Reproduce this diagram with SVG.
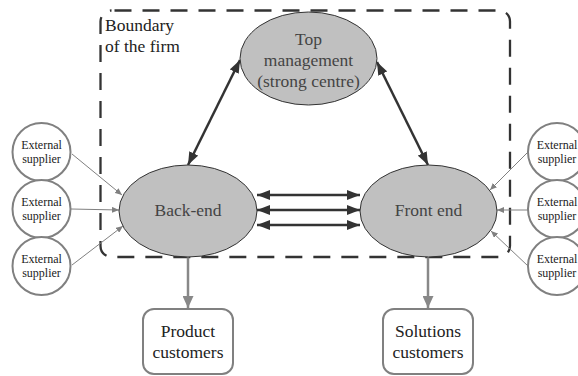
<svg xmlns="http://www.w3.org/2000/svg" width="578" height="376" viewBox="0 0 578 376">
<defs>
<style>
.t{font-family:"Liberation Serif","Times New Roman",serif;text-anchor:middle}
.big{font-size:17.5px;fill:#444}
.sm{font-size:12px;fill:#222}
.box{font-size:17.5px;fill:#222}
.ell{fill:#c0c0c0;stroke:#333;stroke-width:1}
.sup{fill:#fff;stroke:#808080;stroke-width:2}
.cust{fill:#fff;stroke:#808080;stroke-width:2}
.dk{stroke:#333;stroke-width:2.5;fill:none;marker-start:url(#ad);marker-end:url(#ad)}
.th{stroke:#808080;stroke-width:1;fill:none;marker-end:url(#at)}
.dn{stroke:#888;stroke-width:2.5;fill:none;marker-end:url(#ag)}
</style>
<marker id="ad" markerUnits="userSpaceOnUse" markerWidth="13" markerHeight="10" refX="13" refY="5" orient="auto-start-reverse"><path d="M0,0 L13,5 L0,10 z" fill="#333"/></marker>
<marker id="at" markerUnits="userSpaceOnUse" markerWidth="7" markerHeight="6" refX="7" refY="3" orient="auto"><path d="M0,0 L7,3 L0,6 z" fill="#808080"/></marker>
<marker id="ag" markerUnits="userSpaceOnUse" markerWidth="12" markerHeight="11" refX="12" refY="5.5" orient="auto"><path d="M0,0 L12,5.5 L0,11 z" fill="#888"/></marker>
</defs>

<g id="boundary">
<rect x="100.5" y="10.5" width="409.5" height="246.5" rx="11" fill="none" stroke="#333" stroke-width="2.3" stroke-dasharray="17,11" stroke-dashoffset="-3"/>
<text class="t box" style="text-anchor:start" x="105" y="31">Boundary</text>
<text class="t box" style="text-anchor:start" x="105" y="52">of the firm</text>
</g>

<g id="connectors">
<line class="dk" x1="240" y1="60" x2="188" y2="165"/>
<line class="dk" x1="377" y1="62" x2="428" y2="165"/>
<line class="dk" x1="257" y1="195" x2="360" y2="195"/>
<line class="dk" x1="257" y1="210" x2="360" y2="210"/>
<line class="dk" x1="257" y1="225" x2="360" y2="225"/>
<line class="th" x1="72" y1="154" x2="122" y2="195"/>
<line class="th" x1="71" y1="209" x2="119" y2="210"/>
<line class="th" x1="72" y1="265" x2="123" y2="226"/>
<line class="th" x1="528" y1="152" x2="490" y2="190"/>
<line class="th" x1="528" y1="210" x2="497" y2="210"/>
<line class="th" x1="528" y1="266" x2="491" y2="231"/>
<line class="dn" x1="188" y1="257" x2="188" y2="308"/>
<line class="dn" x1="428" y1="257" x2="428" y2="308"/>
</g>

<g id="top-management">
<ellipse class="ell" cx="308.5" cy="58.5" rx="68.5" ry="46.5"/>
<text class="t big" x="308.5" y="45">Top</text>
<text class="t big" x="308.5" y="66">management</text>
<text class="t big" x="308.5" y="87">(strong centre)</text>
</g>

<g id="back-end">
<ellipse class="ell" cx="188" cy="211" rx="69" ry="46"/>
<text class="t big" x="188" y="216">Back-end</text>
</g>

<g id="front-end">
<ellipse class="ell" cx="428.5" cy="211" rx="68.5" ry="46"/>
<text class="t big" x="428.5" y="216">Front end</text>
</g>

<g id="supplier-l1"><circle class="sup" cx="41.5" cy="152" r="29"/><text class="t sm" x="41.5" y="149">External</text><text class="t sm" x="41.5" y="163">supplier</text></g>
<g id="supplier-l2"><circle class="sup" cx="41.5" cy="209" r="29"/><text class="t sm" x="41.5" y="206">External</text><text class="t sm" x="41.5" y="220">supplier</text></g>
<g id="supplier-l3"><circle class="sup" cx="41.5" cy="266" r="29"/><text class="t sm" x="41.5" y="263">External</text><text class="t sm" x="41.5" y="277">supplier</text></g>
<g id="supplier-r1"><circle class="sup" cx="557" cy="152" r="29"/><text class="t sm" x="557" y="149">External</text><text class="t sm" x="557" y="163">supplier</text></g>
<g id="supplier-r2"><circle class="sup" cx="557" cy="209" r="29"/><text class="t sm" x="557" y="206">External</text><text class="t sm" x="557" y="220">supplier</text></g>
<g id="supplier-r3"><circle class="sup" cx="557" cy="266" r="29"/><text class="t sm" x="557" y="263">External</text><text class="t sm" x="557" y="277">supplier</text></g>

<g id="product-customers">
<rect class="cust" x="143" y="309" width="90" height="65" rx="11"/>
<text class="t box" x="188" y="337">Product</text>
<text class="t box" x="188" y="358">customers</text>
</g>

<g id="solutions-customers">
<rect class="cust" x="383" y="309" width="90" height="65" rx="11"/>
<text class="t box" x="428" y="337">Solutions</text>
<text class="t box" x="428" y="358">customers</text>
</g>
</svg>
